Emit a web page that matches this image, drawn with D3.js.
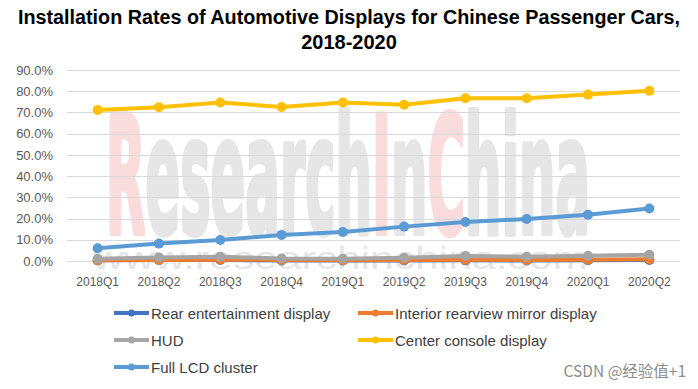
<!DOCTYPE html>
<html>
<head>
<meta charset="utf-8">
<script src="https://cdn.jsdelivr.net/npm/d3@7"></script>
<style>
  body { margin: 0; background: #fff; }
  svg { display: block; font-family: "Liberation Sans", Arial, sans-serif; }
</style>
</head>
<body>
<div id="chart"></div>
<script>
const quarters = ["2018Q1", "2018Q2", "2018Q3", "2018Q4", "2019Q1", "2019Q2", "2019Q3", "2019Q4", "2020Q1", "2020Q2"];
const yTicks = [0, 0.1, 0.2, 0.3, 0.4, 0.5, 0.6, 0.7, 0.8, 0.9];

const rearEntertainment = [0.003, 0.005, 0.005, 0.002, 0.002, 0.002, 0.003, 0.002, 0.004, 0.005];
const interiorMirror = [0.004, 0.005, 0.006, 0.005, 0.004, 0.005, 0.006, 0.005, 0.006, 0.008];
const hud = [0.011, 0.017, 0.020, 0.012, 0.011, 0.015, 0.024, 0.020, 0.025, 0.030];
const centerConsole = [0.712, 0.725, 0.747, 0.726, 0.747, 0.736, 0.767, 0.767, 0.784, 0.802];
const fullLcd = [0.060, 0.082, 0.099, 0.123, 0.137, 0.162, 0.184, 0.198, 0.218, 0.247];

const series = [
  { name: "Rear entertainment display", values: rearEntertainment, color: "#4472C4" },
  { name: "Interior rearview mirror display", values: interiorMirror, color: "#ED7D31" },
  { name: "HUD", values: hud, color: "#A5A5A5" },
  { name: "Center console display", values: centerConsole, color: "#FFC000" },
  { name: "Full LCD cluster", values: fullLcd, color: "#5B9BD5" }
];

const W = 698, H = 389;
const svg = d3.select("#chart").append("svg")
  .attr("width", W)
  .attr("height", H);

const x = d3.scaleBand().domain(quarters).range([67, 680]);
const y = d3.scaleLinear().domain([0, 0.9]).range([261, 70]);

// title
const title = svg.append("text")
  .attr("text-anchor", "middle")
  .attr("font-weight", "bold")
  .attr("font-size", 20)
  .attr("fill", "#000");
title.append("tspan").attr("x", 349).attr("y", 24)
  .attr("textLength", 662).attr("lengthAdjust", "spacingAndGlyphs")
  .text("Installation Rates of Automotive Displays for Chinese Passenger Cars,");
title.append("tspan").attr("x", 349).attr("y", 49)
  .text("2018-2020");

// watermark (squeezed horizontally to fit its span)
const wmG = svg.append("g");
const wm = wmG.append("text")
  .attr("x", 0).attr("y", 0)
  .attr("font-family", "'DejaVu Sans Condensed', 'DejaVu Sans', sans-serif")
  .attr("font-weight", "bold")
  .attr("font-size", 163)
  .attr("stroke-width", 6)
  .attr("stroke-linejoin", "round");
[["R", "#fadcdc"], ["esearch", "#e6e6e6"], ["I", "#fadcdc"], ["n", "#e6e6e6"], ["C", "#fadcdc"], ["hina", "#e6e6e6"]]
  .forEach(([t, c]) => wm.append("tspan").attr("fill", c).attr("stroke", c).text(t));
const wmWidth = wm.node().getComputedTextLength();
wmG.attr("transform", `translate(106,233) scale(${484 / wmWidth},1)`);

svg.append("text")
  .attr("x", 93).attr("y", 269)
  .attr("font-size", 31)
  .attr("fill", "#e6e6e6")
  .attr("textLength", 495)
  .attr("lengthAdjust", "spacingAndGlyphs")
  .text("www.researchinchina.com");

// gridlines
svg.append("g")
  .selectAll("line")
  .data(yTicks)
  .join("line")
  .attr("x1", 67).attr("x2", 680)
  .attr("y1", d => Math.round(y(d)) + 0.5)
  .attr("y2", d => Math.round(y(d)) + 0.5)
  .attr("stroke", "#d9d9d9")
  .attr("stroke-width", 1);

// y axis labels
const yAxis = svg.append("g")
  .attr("transform", "translate(67,0)")
  .call(d3.axisLeft(y).tickValues(yTicks).tickFormat(d3.format(".1%")).tickSize(0).tickPadding(14));
yAxis.select(".domain").remove();
yAxis.selectAll("text").attr("font-size", 13).attr("fill", "#595959").attr("font-family", "'Liberation Sans', Arial, sans-serif");

// x axis labels
const xAxis = svg.append("g")
  .attr("transform", "translate(0,261)")
  .call(d3.axisBottom(x).tickSize(0).tickPadding(16));
xAxis.select(".domain").remove();
xAxis.selectAll("text").attr("font-size", 12).attr("fill", "#595959").attr("font-family", "'Liberation Sans', Arial, sans-serif");

// lines
const line = d3.line()
  .x((d, i) => x(quarters[i]) + x.bandwidth() / 2)
  .y(d => y(d));

series.forEach(s => {
  const g = svg.append("g");
  g.append("path")
    .datum(s.values)
    .attr("fill", "none")
    .attr("stroke", s.color)
    .attr("stroke-width", 4)
    .attr("stroke-linejoin", "round")
    .attr("d", line);
  g.selectAll("circle")
    .data(s.values)
    .join("circle")
    .attr("cx", (d, i) => x(quarters[i]) + x.bandwidth() / 2)
    .attr("cy", d => y(d))
    .attr("r", 5)
    .attr("fill", s.color);
});

// legend
const legendPos = [[114, 313], [358, 313], [114, 340], [358, 340], [114, 367]];
series.forEach((s, i) => {
  const [lx, ly] = legendPos[i];
  const lg = svg.append("g").attr("transform", `translate(${lx},${ly})`);
  lg.append("line")
    .attr("x1", 0).attr("x2", 35)
    .attr("y1", 0).attr("y2", 0)
    .attr("stroke", s.color)
    .attr("stroke-width", 4);
  lg.append("circle").attr("cx", 17.5).attr("cy", 0).attr("r", 3.5).attr("fill", s.color);
  lg.append("text")
    .attr("x", 37).attr("y", 5.5)
    .attr("font-size", 15)
    .attr("fill", "#404040")
    .text(s.name);
});

// CSDN mark
svg.append("text")
  .attr("x", 686).attr("y", 377)
  .attr("text-anchor", "end")
  .attr("font-size", 15.5)
  .attr("font-family", "'Noto Sans CJK SC', sans-serif")
  .attr("fill", "#8c8c8c")
  .text("CSDN @经验值+1");
</script>
</body>
</html>
